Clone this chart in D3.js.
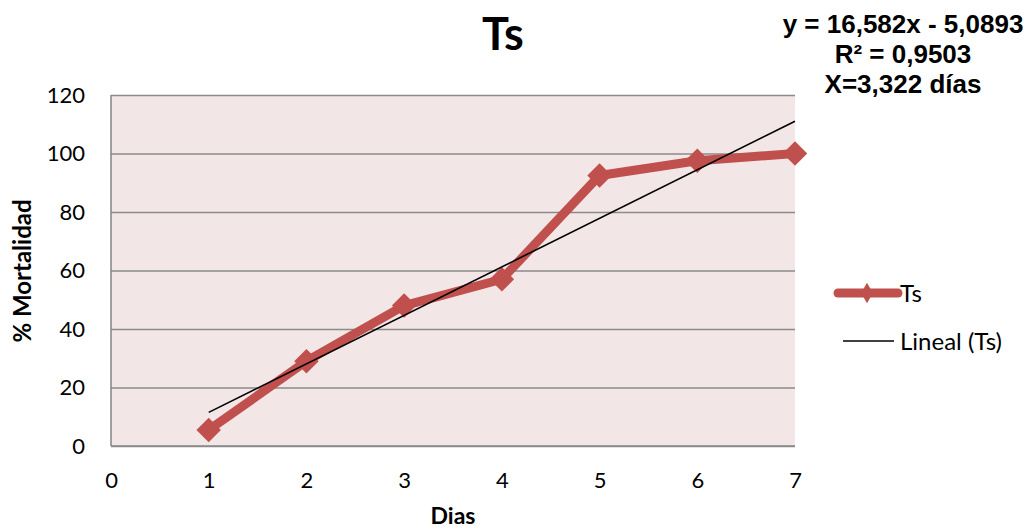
<!DOCTYPE html>
<html>
<head>
<meta charset="utf-8">
<script src="https://cdn.jsdelivr.net/npm/d3@7"></script>
<style>
  body { margin: 0; background: #fff; }
  svg { display: block; }
</style>
</head>
<body>
<script>
// chart data
const dias = [1, 2, 3, 4, 5, 6, 7];
const mortalidad = [5.5, 29, 48, 57, 92.5, 97.5, 100];
// linear trend (Lineal (Ts)) end points
const trendX = [1, 7];
const trendY = [11.5, 111];
const xTicks = [0, 1, 2, 3, 4, 5, 6, 7];
const yTicks = [0, 20, 40, 60, 80, 100, 120];
const eqLines = ["y = 16,582x - 5,0893", "R² = 0,9503", "X=3,322 días"];

const margin = {top: 95, right: 234, bottom: 85, left: 111},
    width = 1029 - margin.left - margin.right,
    height = 531 - margin.top - margin.bottom;

const red = "#c0504d";
const gridCol = "#8a8a8a";
const font = "Lato, 'Open Sans', sans-serif";

const root = d3.select("body").append("svg")
    .attr("width", 1029)
    .attr("height", 531);

const svg = root.append("g")
    .attr("transform", "translate(" + margin.left + "," + margin.top + ")");

const x = d3.scaleLinear().domain([0, 7]).range([0, width]);
const y = d3.scaleLinear().domain([0, 120]).range([height, 0]);

// plot background
svg.append("rect")
    .attr("width", width)
    .attr("height", height)
    .attr("fill", "#f2e7e6");

// gridlines + y labels
const yAxis = svg.append("g")
    .call(d3.axisLeft(y).tickValues(yTicks).tickSize(-width).tickPadding(26));
yAxis.select(".domain").remove();
yAxis.selectAll(".tick line").attr("stroke", gridCol).attr("stroke-width", 1.6);
yAxis.selectAll("text")
    .style("font-family", font)
    .style("font-size", "22px")
    .attr("fill", "#000");

// left and bottom borders
svg.append("line").attr("x1", 0).attr("x2", 0).attr("y1", 0).attr("y2", height)
    .attr("stroke", gridCol).attr("stroke-width", 1.6);
svg.append("line").attr("x1", 0).attr("x2", width).attr("y1", height).attr("y2", height)
    .attr("stroke", gridCol).attr("stroke-width", 1.6);

// x labels
const xAxis = svg.append("g")
    .attr("transform", "translate(0," + height + ")")
    .call(d3.axisBottom(x).tickValues(xTicks).tickFormat(d3.format("d")).tickSize(0).tickPadding(26));
xAxis.select(".domain").remove();
xAxis.selectAll("text")
    .style("font-family", font)
    .style("font-size", "22px")
    .attr("fill", "#000");

// data line
const pts = dias.map((d, i) => [d, mortalidad[i]]);
svg.append("path")
    .datum(pts)
    .attr("fill", "none")
    .attr("stroke", red)
    .attr("stroke-width", 9)
    .attr("stroke-linejoin", "round")
    .attr("d", d3.line().x(d => x(d[0])).y(d => y(d[1])));

// markers
svg.selectAll(".marker")
    .data(pts)
    .enter()
    .append("path")
    .attr("class", "marker")
    .attr("d", d3.symbol().type(d3.symbolSquare).size(300))
    .attr("transform", d => "translate(" + x(d[0]) + "," + y(d[1]) + ") rotate(45)")
    .attr("fill", red);

// trend line
svg.append("path")
    .datum(trendX.map((d, i) => [d, trendY[i]]))
    .attr("fill", "none")
    .attr("stroke", "#000")
    .attr("stroke-width", 1.6)
    .attr("d", d3.line().x(d => x(d[0])).y(d => y(d[1])));

// title
root.append("text")
    .attr("x", 503)
    .attr("y", 50)
    .attr("text-anchor", "middle")
    .style("font-family", font)
    .style("font-weight", "bold")
    .style("font-size", "45px")
    .text("Ts");

// equation
root.selectAll(".eq")
    .data(eqLines)
    .enter()
    .append("text")
    .attr("x", 903)
    .attr("y", (d, i) => 33 + i * 30)
    .attr("text-anchor", "middle")
    .style("font-family", "'Liberation Sans', Arial, sans-serif")
    .style("font-weight", "bold")
    .style("font-size", "26px")
    .text(d => d);

// axis titles
root.append("text")
    .attr("transform", "translate(31,271) rotate(-90)")
    .attr("text-anchor", "middle")
    .style("font-family", font)
    .style("font-weight", "bold")
    .style("font-size", "24px")
    .text("% Mortalidad");

root.append("text")
    .attr("x", 453)
    .attr("y", 524)
    .attr("text-anchor", "middle")
    .style("font-family", font)
    .style("font-weight", "bold")
    .style("font-size", "23px")
    .text("Dias");

// legend
const leg = root.append("g");
leg.append("line")
    .attr("x1", 838).attr("x2", 898).attr("y1", 293).attr("y2", 293)
    .attr("stroke", red).attr("stroke-width", 9).attr("stroke-linecap", "round");
leg.append("path")
    .attr("d", d3.symbol().type(d3.symbolDiamond).size(120))
    .attr("transform", "translate(867,293)")
    .attr("fill", red);
leg.append("text")
    .attr("x", 900).attr("y", 302)
    .style("font-family", font)
    .style("font-size", "24px")
    .text("Ts");
leg.append("line")
    .attr("x1", 843).attr("x2", 894).attr("y1", 341).attr("y2", 341)
    .attr("stroke", "#000").attr("stroke-width", 1.6);
leg.append("text")
    .attr("x", 900).attr("y", 350)
    .style("font-family", font)
    .style("font-size", "24px")
    .text("Lineal (Ts)");
</script>
</body>
</html>
